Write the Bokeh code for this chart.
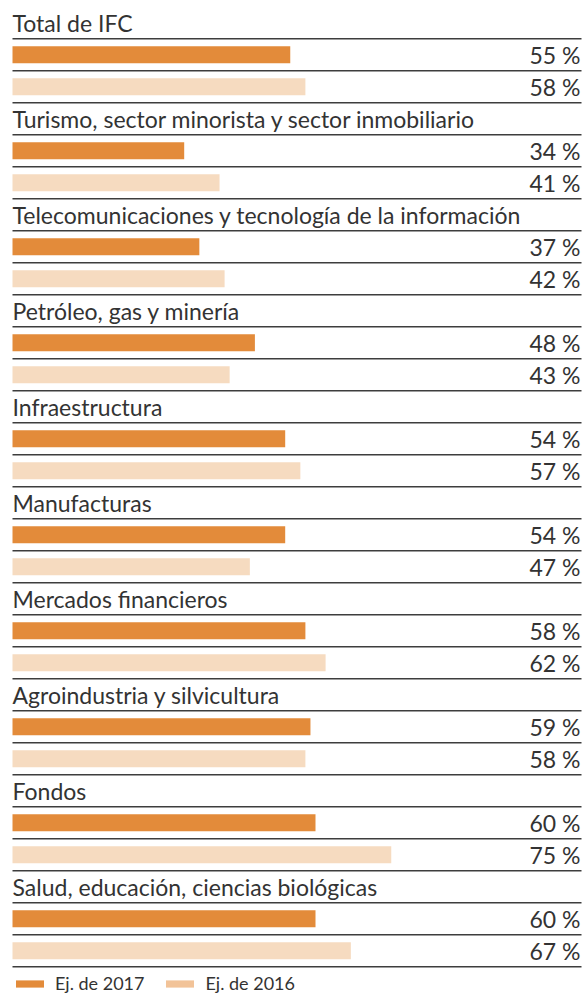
from bokeh.plotting import figure
from bokeh.models import Range1d, Legend, LegendItem
from bokeh.embed import file_html
from bokeh.resources import INLINE
from bokeh.core.properties import value

categories = [
    "Total de IFC",
    "Turismo, sector minorista y sector inmobiliario",
    "Telecomunicaciones y tecnología de la información",
    "Petróleo, gas y minería",
    "Infraestructura",
    "Manufacturas",
    "Mercados financieros",
    "Agroindustria y silvicultura",
    "Fondos",
    "Salud, educación, ciencias biológicas",
]
ej2017 = [55, 34, 37, 48, 54, 54, 58, 59, 60, 60]
ej2016 = [58, 41, 42, 43, 57, 47, 62, 58, 75, 67]
series_labels = ["Ej. de 2017", "Ej. de 2016"]

ORANGE = "#E38B3A"
LIGHT = "#F6DBC0"
LIGHT_LEGEND = "#F2C398"
RULE = "#3d3d3d"
TEXT = "#333333"
FONT = "Lato"

W, H = 584, 995
PITCH = 32.0
FIRST_LINE = 38.3
PX_PER_UNIT = 5.05
LEFT = 12.0
RULE_END_PX = 581.0
TEXT_RIGHT_PX = 580.0

x_start = -LEFT / PX_PER_UNIT
x_end = (W - LEFT) / PX_PER_UNIT
y_top = 0.5 - FIRST_LINE / PITCH
y_bottom = y_top + H / PITCH

p = figure(width=W, height=H, x_range=Range1d(x_start, x_end),
           y_range=Range1d(y_bottom, y_top), output_backend="svg",
           toolbar_location=None, x_axis_type=None, y_axis_type=None,
           min_border=0, min_border_left=0, min_border_right=0,
           min_border_top=0, min_border_bottom=0)
p.grid.visible = False
p.outline_line_color = None
p.background_fill_color = "white"
p.border_fill_color = "white"

n = len(categories)
title_rows = [3 * i for i in range(n)]
rows17 = [3 * i + 1 for i in range(n)]
rows16 = [3 * i + 2 for i in range(n)]
BAR_H = 0.53

p.hbar(y=rows17, left=0, right=ej2017, height=BAR_H, fill_color=ORANGE, line_color=None)
p.hbar(y=rows16, left=0, right=ej2016, height=BAR_H, fill_color=LIGHT, line_color=None)

rule_x1 = (RULE_END_PX - LEFT) / PX_PER_UNIT
rule_y = [r + 0.5 for r in range(3 * n)]
p.segment(x0=[0] * len(rule_y), x1=[rule_x1] * len(rule_y), y0=rule_y, y1=rule_y,
          line_color=RULE, line_width=1.6)

mid_off = 0.5 / PITCH
p.text(x=[0] * n, y=[r + mid_off for r in title_rows], text=categories,
       text_font=value(FONT), text_font_size="23px", text_color=TEXT,
       text_baseline="middle", text_align="left")

pct_x = (TEXT_RIGHT_PX - LEFT) / PX_PER_UNIT
p.text(x=[pct_x] * n, y=[r + mid_off for r in rows17], text=[f"{v} %" for v in ej2017],
       text_font=value(FONT), text_font_size="23px", text_color=TEXT,
       text_baseline="middle", text_align="right")
p.text(x=[pct_x] * n, y=[r + mid_off for r in rows16], text=[f"{v} %" for v in ej2016],
       text_font=value(FONT), text_font_size="23px", text_color=TEXT,
       text_baseline="middle", text_align="right")

r17 = p.hbar(y=[0], left=[0], right=[0], height=BAR_H, fill_color=ORANGE, line_color=None)
r16 = p.hbar(y=[0], left=[0], right=[0], height=BAR_H, fill_color=LIGHT_LEGEND, line_color=None)

legend = Legend(items=[LegendItem(label=series_labels[0], renderers=[r17]),
                       LegendItem(label=series_labels[1], renderers=[r16])],
                location=(12, 1), orientation="horizontal",
                glyph_width=35, glyph_height=9, label_standoff=8, spacing=18,
                padding=0, margin=0, border_line_color=None,
                background_fill_alpha=0, label_text_font=FONT,
                label_text_font_size="18px", label_text_color=TEXT,
                label_height=14)
p.add_layout(legend)

open("out.html", "w").write(file_html(p, INLINE))
